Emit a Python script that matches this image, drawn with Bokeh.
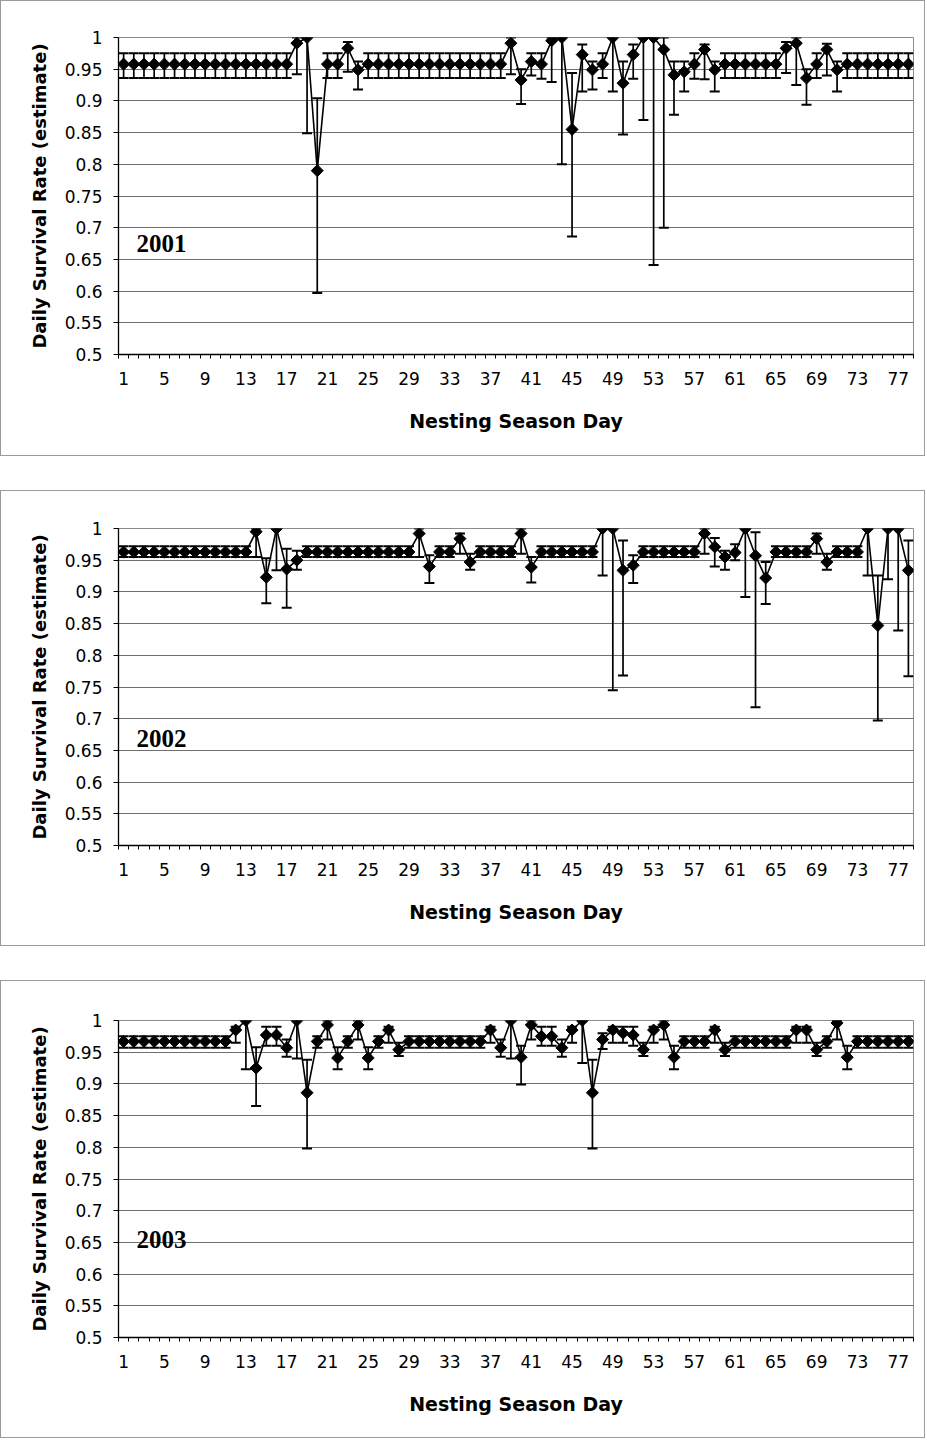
from bokeh.plotting import figure
from bokeh.models import Range1d, FixedTicker, CustomJSTickFormatter, Label
from bokeh.layouts import column
from bokeh.embed import file_html
from bokeh.resources import INLINE

# ---------------- data ----------------
days = list(range(1, 79))
x_tick_days = [1, 5, 9, 13, 17, 21, 25, 29, 33, 37, 41, 45, 49, 53, 57, 61, 65, 69, 73, 77]
y_ticks = [0.5, 0.55, 0.6, 0.65, 0.7, 0.75, 0.8, 0.85, 0.9, 0.95, 1.0]
years = ["2001", "2002", "2003"]

est_2001 = [
    0.958, 0.958, 0.958, 0.958, 0.958, 0.958, 0.958, 0.958, 0.958, 0.958,
    0.958, 0.958, 0.958, 0.958, 0.958, 0.958, 0.958, 0.991, 1.000, 0.790,
    0.958, 0.958, 0.983, 0.949, 0.958, 0.958, 0.958, 0.958, 0.958, 0.958,
    0.958, 0.958, 0.958, 0.958, 0.958, 0.958, 0.958, 0.958, 0.991, 0.933,
    0.962, 0.958, 0.995, 1.000, 0.855, 0.973, 0.949, 0.958, 1.000, 0.928,
    0.973, 1.000, 1.000, 0.981, 0.941, 0.946, 0.958, 0.981, 0.949, 0.958,
    0.958, 0.958, 0.958, 0.958, 0.958, 0.983, 0.991, 0.936, 0.958, 0.981,
    0.949, 0.958, 0.958, 0.958, 0.958, 0.958, 0.958, 0.958]
lo_2001 = [
    0.936, 0.936, 0.936, 0.936, 0.936, 0.936, 0.936, 0.936, 0.936, 0.936,
    0.936, 0.936, 0.936, 0.936, 0.936, 0.936, 0.936, 0.942, 0.849, 0.597,
    0.936, 0.936, 0.946, 0.918, 0.936, 0.936, 0.936, 0.936, 0.936, 0.936,
    0.936, 0.936, 0.936, 0.936, 0.936, 0.936, 0.936, 0.936, 0.942, 0.895,
    0.940, 0.935, 0.930, 0.800, 0.686, 0.915, 0.918, 0.936, 0.915, 0.847,
    0.935, 0.870, 0.641, 0.700, 0.878, 0.915, 0.935, 0.934, 0.915, 0.936,
    0.936, 0.936, 0.936, 0.936, 0.936, 0.944, 0.925, 0.894, 0.936, 0.940,
    0.915, 0.936, 0.936, 0.936, 0.936, 0.936, 0.936, 0.936]
hi_2001 = [
    0.975, 0.975, 0.975, 0.975, 0.975, 0.975, 0.975, 0.975, 0.975, 0.975,
    0.975, 0.975, 0.975, 0.975, 0.975, 0.975, 0.975, 1.000, 1.000, 0.904,
    0.975, 0.975, 0.993, 0.962, 0.975, 0.975, 0.975, 0.975, 0.975, 0.975,
    0.975, 0.975, 0.975, 0.975, 0.975, 0.975, 0.975, 0.975, 1.000, 0.950,
    0.975, 0.975, 1.000, 1.000, 0.944, 0.989, 0.962, 0.975, 1.000, 0.962,
    0.989, 1.000, 1.000, 1.000, 0.962, 0.962, 0.975, 0.989, 0.962, 0.975,
    0.975, 0.975, 0.975, 0.975, 0.975, 0.993, 1.000, 0.950, 0.975, 0.990,
    0.962, 0.975, 0.975, 0.975, 0.975, 0.975, 0.975, 0.975]

est_2002 = [
    0.963, 0.963, 0.963, 0.963, 0.963, 0.963, 0.963, 0.963, 0.963, 0.963,
    0.963, 0.963, 0.963, 0.995, 0.923, 1.000, 0.936, 0.950, 0.963, 0.963,
    0.963, 0.963, 0.963, 0.963, 0.963, 0.963, 0.963, 0.963, 0.963, 0.992,
    0.940, 0.963, 0.963, 0.984, 0.947, 0.963, 0.963, 0.963, 0.963, 0.992,
    0.939, 0.963, 0.963, 0.963, 0.963, 0.963, 0.963, 1.000, 1.000, 0.934,
    0.942, 0.963, 0.963, 0.963, 0.963, 0.963, 0.963, 0.992, 0.971, 0.955,
    0.962, 1.000, 0.957, 0.922, 0.963, 0.963, 0.963, 0.963, 0.984, 0.947,
    0.963, 0.963, 0.963, 1.000, 0.847, 1.000, 1.000, 0.934]
lo_2002 = [
    0.955, 0.955, 0.955, 0.955, 0.955, 0.955, 0.955, 0.955, 0.955, 0.955,
    0.955, 0.955, 0.955, 0.955, 0.882, 0.934, 0.875, 0.935, 0.955, 0.955,
    0.955, 0.955, 0.955, 0.955, 0.955, 0.955, 0.955, 0.955, 0.955, 0.955,
    0.914, 0.955, 0.955, 0.960, 0.935, 0.955, 0.955, 0.955, 0.955, 0.960,
    0.915, 0.955, 0.955, 0.955, 0.955, 0.955, 0.955, 0.926, 0.745, 0.768,
    0.914, 0.955, 0.955, 0.955, 0.955, 0.955, 0.955, 0.960, 0.940, 0.935,
    0.950, 0.892, 0.718, 0.881, 0.955, 0.955, 0.955, 0.955, 0.960, 0.935,
    0.955, 0.955, 0.955, 0.926, 0.697, 0.920, 0.839, 0.767]
hi_2002 = [
    0.972, 0.972, 0.972, 0.972, 0.972, 0.972, 0.972, 0.972, 0.972, 0.972,
    0.972, 0.972, 0.972, 1.000, 0.953, 1.000, 0.968, 0.965, 0.972, 0.972,
    0.972, 0.972, 0.972, 0.972, 0.972, 0.972, 0.972, 0.972, 0.972, 1.000,
    0.958, 0.972, 0.972, 0.992, 0.960, 0.972, 0.972, 0.972, 0.972, 1.000,
    0.955, 0.972, 0.972, 0.972, 0.972, 0.972, 0.972, 1.000, 1.000, 0.981,
    0.958, 0.972, 0.972, 0.972, 0.972, 0.972, 0.972, 1.000, 0.985, 0.965,
    0.975, 1.000, 0.994, 0.947, 0.972, 0.972, 0.972, 0.972, 0.992, 0.960,
    0.972, 0.972, 0.972, 1.000, 0.926, 1.000, 1.000, 0.981]

est_2003 = [
    0.967, 0.967, 0.967, 0.967, 0.967, 0.967, 0.967, 0.967, 0.967, 0.967,
    0.967, 0.985, 1.000, 0.925, 0.977, 0.977, 0.957, 1.000, 0.886, 0.967,
    0.993, 0.941, 0.967, 0.993, 0.941, 0.967, 0.985, 0.954, 0.967, 0.967,
    0.967, 0.967, 0.967, 0.967, 0.967, 0.967, 0.985, 0.957, 1.000, 0.942,
    0.993, 0.975, 0.975, 0.957, 0.985, 1.000, 0.886, 0.970, 0.985, 0.980,
    0.977, 0.954, 0.985, 0.993, 0.942, 0.967, 0.967, 0.967, 0.985, 0.954,
    0.967, 0.967, 0.967, 0.967, 0.967, 0.967, 0.985, 0.985, 0.954, 0.967,
    0.996, 0.942, 0.967, 0.967, 0.967, 0.967, 0.967, 0.967]
lo_2003 = [
    0.957, 0.957, 0.957, 0.957, 0.957, 0.957, 0.957, 0.957, 0.957, 0.957,
    0.957, 0.965, 0.923, 0.865, 0.960, 0.960, 0.943, 0.940, 0.798, 0.957,
    0.970, 0.923, 0.957, 0.970, 0.923, 0.957, 0.965, 0.944, 0.957, 0.957,
    0.957, 0.957, 0.957, 0.957, 0.957, 0.957, 0.965, 0.943, 0.940, 0.899,
    0.970, 0.960, 0.960, 0.943, 0.965, 0.933, 0.798, 0.955, 0.965, 0.965,
    0.960, 0.944, 0.965, 0.970, 0.923, 0.957, 0.957, 0.957, 0.965, 0.944,
    0.957, 0.957, 0.957, 0.957, 0.957, 0.957, 0.965, 0.965, 0.944, 0.957,
    0.970, 0.923, 0.957, 0.957, 0.957, 0.957, 0.957, 0.957]
hi_2003 = [
    0.975, 0.975, 0.975, 0.975, 0.975, 0.975, 0.975, 0.975, 0.975, 0.975,
    0.975, 0.990, 1.000, 0.958, 0.990, 0.990, 0.970, 1.000, 0.938, 0.975,
    1.000, 0.958, 0.975, 1.000, 0.958, 0.975, 0.990, 0.965, 0.975, 0.975,
    0.975, 0.975, 0.975, 0.975, 0.975, 0.975, 0.990, 0.970, 1.000, 0.960,
    1.000, 0.990, 0.990, 0.970, 0.990, 1.000, 0.938, 0.980, 0.990, 0.990,
    0.990, 0.965, 0.990, 1.000, 0.960, 0.975, 0.975, 0.975, 0.990, 0.965,
    0.975, 0.975, 0.975, 0.975, 0.975, 0.975, 0.990, 0.990, 0.965, 0.975,
    1.000, 0.960, 0.975, 0.975, 0.975, 0.975, 0.975, 0.975]

# ---------------- drawing ----------------
SANS = "DejaVu Sans"
PLOT_H = 317


def make_panel(est, lo, hi, year, height, top, label_y):
    p = figure(width=925, height=height,
               x_range=Range1d(0.5, len(days) + 0.5), y_range=Range1d(0.5, 1.0),
               output_backend="svg", toolbar_location=None,
               min_border_left=117, min_border_right=13,
               min_border_top=top, min_border_bottom=height - top - PLOT_H)
    p.background_fill_color = "white"
    p.border_fill_color = "white"
    p.outline_line_color = "#8c8c8c"
    p.outline_line_width = 1
    p.styles = {"border": "1px solid #9a9a9a"}

    # grid
    p.xgrid.grid_line_color = None
    p.ygrid.ticker = FixedTicker(ticks=y_ticks)
    p.ygrid.grid_line_color = "#6f6f6f"
    p.ygrid.grid_line_width = 1

    # y axis
    ya = p.yaxis[0]
    ya.ticker = FixedTicker(ticks=y_ticks)
    ya.formatter = CustomJSTickFormatter(code="return String(Math.round(tick*100)/100);")
    ya.axis_line_color = "black"
    ya.axis_line_width = 1.3
    ya.major_tick_line_color = "black"
    ya.major_tick_out = 5
    ya.major_tick_in = 0
    ya.minor_tick_line_color = None
    ya.major_label_standoff = 11
    ya.major_label_text_font = SANS
    ya.major_label_text_font_size = "17px"
    ya.major_label_text_color = "black"
    ya.axis_label = "Daily Survival Rate (estimate)"
    ya.axis_label_text_font = SANS
    ya.axis_label_text_font_style = "bold"
    ya.axis_label_text_font_size = "18px"
    ya.axis_label_text_color = "black"
    ya.axis_label_standoff = 12

    # x axis
    xa = p.xaxis[0]
    xa.ticker = FixedTicker(ticks=x_tick_days,
                            minor_ticks=[d - 0.5 for d in days] + [days[-1] + 0.5])
    xa.axis_line_color = "black"
    xa.axis_line_width = 1.3
    xa.major_tick_line_color = None
    xa.major_tick_out = 4
    xa.major_tick_in = 0
    xa.minor_tick_line_color = "black"
    xa.minor_tick_out = 4
    xa.minor_tick_in = 0
    xa.major_label_standoff = 13
    xa.major_label_text_font = SANS
    xa.major_label_text_font_size = "17px"
    xa.major_label_text_color = "black"
    xa.axis_label = "Nesting Season Day"
    xa.axis_label_text_font = SANS
    xa.axis_label_text_font_style = "bold"
    xa.axis_label_text_font_size = "19px"
    xa.axis_label_text_color = "black"
    xa.axis_label_standoff = 22

    # error bars
    p.segment(x0=days, y0=lo, x1=days, y1=hi, line_color="black", line_width=1.7)
    p.scatter(days, lo, marker="dash", size=10, line_color="black", line_width=2)
    p.scatter(days, hi, marker="dash", size=10, line_color="black", line_width=2)
    # series
    p.line(days, est, line_color="black", line_width=1.6)
    p.scatter(days, est, marker="square", angle=0.785398, size=8.5,
              fill_color="black", line_color="black")

    p.add_layout(Label(x=2.27, y=label_y, text=year, text_font="Liberation Serif",
                       text_font_style="bold", text_font_size="25px",
                       text_baseline="middle", text_color="black"))
    return p


p1 = make_panel(est_2001, lo_2001, hi_2001, years[0], 456, 36, 0.675)
p2 = make_panel(est_2002, lo_2002, hi_2002, years[1], 456, 37, 0.669)
p3 = make_panel(est_2003, lo_2003, hi_2003, years[2], 458, 39, 0.655)

layout = column(p1, p2, p3, spacing=34)

with open("out.html", "w") as f:
    f.write(file_html(layout, INLINE))
